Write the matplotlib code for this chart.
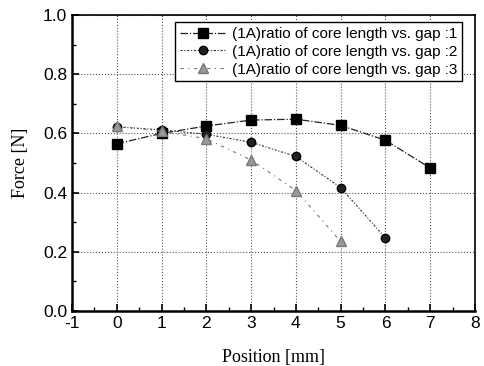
import matplotlib
matplotlib.use("Agg")
import matplotlib.pyplot as plt
from matplotlib.ticker import MultipleLocator

pos1 = [0, 1, 2, 3, 4, 5, 6, 7]
force1 = [0.565, 0.600, 0.625, 0.645, 0.648, 0.627, 0.577, 0.483]
pos2 = [0, 1, 2, 3, 4, 5, 6]
force2 = [0.622, 0.612, 0.597, 0.570, 0.522, 0.417, 0.247]
pos3 = [0, 1, 2, 3, 4, 5]
force3 = [0.625, 0.607, 0.582, 0.510, 0.407, 0.235]
labels = ['(1A)ratio of core length vs. gap :1',
          '(1A)ratio of core length vs. gap :2',
          '(1A)ratio of core length vs. gap :3']

plt.rcParams['font.family'] = 'Liberation Sans'
plt.rcParams['axes.unicode_minus'] = False

fig = plt.figure(figsize=(4.85, 3.66), dpi=100)
ax = fig.add_axes([72/485, 1-311/366, (475-72)/485, (311-15)/366])

ax.plot(pos1, force1, '-', color='#222222', lw=0.9, dashes=(6, 1.5, 1, 1.5),
        marker='s', ms=6.5, mfc='black', mec='black', label=labels[0])
ax.plot(pos2, force2, '-', color='#333333', lw=0.8, dashes=(2, 1.5, 1, 1.5),
        marker='o', ms=6, mfc='#222222', mec='black', label=labels[1])
ax.plot(pos3, force3, '-', color='#777777', lw=0.8, dashes=(3, 4, 1, 4),
        marker='^', ms=6.5, mfc='#999999', mec='#777777', label=labels[2])

ax.set_xlim(-1, 8)
ax.set_ylim(0, 1.0)
ax.xaxis.set_major_locator(MultipleLocator(1))
ax.xaxis.set_minor_locator(MultipleLocator(0.5))
ax.yaxis.set_major_locator(MultipleLocator(0.2))
ax.yaxis.set_minor_locator(MultipleLocator(0.1))
ax.set_yticklabels([f'{v:.1f}' for v in ax.get_yticks()])
ax.tick_params(which='both', direction='in', top=False, right=False, labelsize=12.5)
ax.tick_params(which='major', length=5, width=1.2)
ax.tick_params(which='minor', length=3, width=1)
ax.grid(True, which='major', ls=':', color='#555555', lw=0.8)

for side in ['left', 'bottom']:
    ax.spines[side].set_linewidth(1.8)
for side in ['top', 'right']:
    ax.spines[side].set_linewidth(1.2)

ax.set_xlabel('Position [mm]', family='Liberation Serif', fontsize=13, labelpad=13)
ax.set_ylabel('Force [N]', family='Liberation Serif', fontsize=13, labelpad=10)

leg = ax.legend(loc='upper right', bbox_to_anchor=(0.967, 0.975), fontsize=11,
                frameon=True, fancybox=False, edgecolor='black', framealpha=1,
                handlelength=3, handletextpad=0.4, borderpad=0.3, labelspacing=0.25,
                borderaxespad=0)
leg.get_frame().set_linewidth(1.0)

fig.savefig('out.png', dpi=100)
